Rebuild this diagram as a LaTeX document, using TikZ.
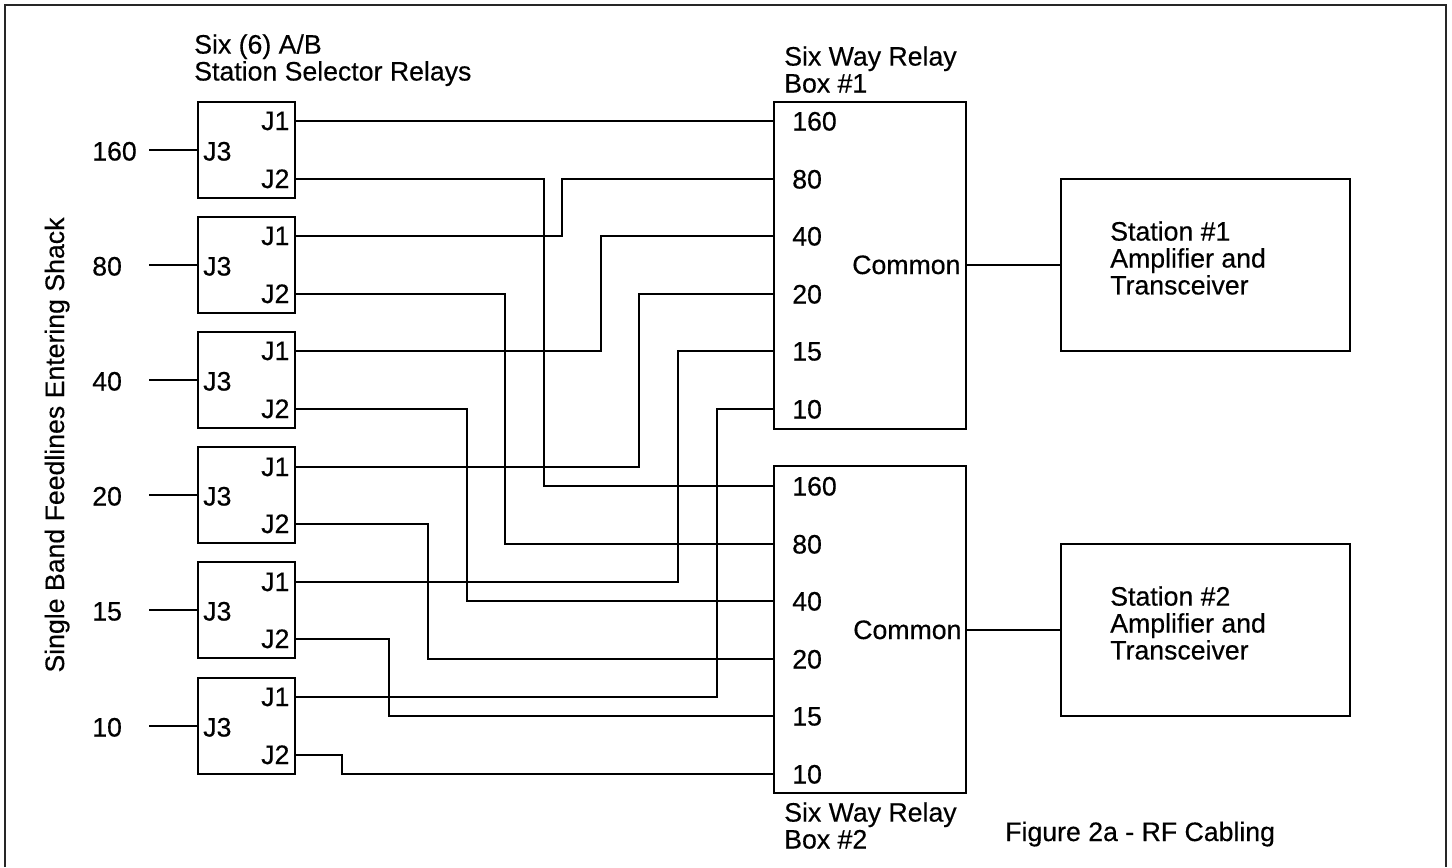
\documentclass[tikz,border=0pt]{standalone}
\usepackage{fontspec}
\setmainfont[RawFeature={embolden=0.4}]{Liberation Sans}
\usepackage{tikz}
\tikzset{
  wire/.style={draw=black,line width=1.7pt,line cap=rect,line join=miter},
  relay/.style={rectangle,draw=black,line width=1.7pt,inner sep=0pt,minimum width=72.75pt,minimum height=72pt},
  sixbox/.style={rectangle,draw=black,line width=1.7pt,inner sep=0pt,minimum width=144pt,minimum height=245.25pt},
  station/.style={rectangle,draw=black,line width=1.7pt,inner sep=0pt,minimum width=216.75pt,minimum height=129pt},
  lbl/.style={inner sep=0pt,font=\fontsize{20}{20.2}\selectfont,anchor=base west},
  mlbl/.style={inner sep=0pt,font=\fontsize{20}{20.2}\selectfont,anchor=north west,align=left}
}
\newcommand{\bendwire}[3]{%
  \draw[wire] (#1) -- (#1 -| #2,0) -- (#3 -| #2,0) -- (#3);
}

\begin{document}
\begin{tikzpicture}[x=.75pt,y=-.75pt]
  \useasboundingbox (0,0) rectangle (1452,867);
  \draw[line width=2pt,draw=black!85] (5,867) -- (5,5) -- (1446,5) -- (1446,867);
  % selector relays
  \foreach \band/\tj/\tm/\tk in {160/121/150/179,80/236/265/294,40/351/380/409,20/467/495/524,15/582/610/639,10/697/726/755} {
    \node[relay] (r\band) at (246.2,\tm) {};
    \coordinate (r\band j1) at (r\band.east |- 0,\tj);
    \coordinate (r\band j2) at (r\band.east |- 0,\tk);
    \coordinate (feed\band) at (150,\tm);
    \node[lbl] at (92,\tm+10.5) {\band};
    \node[lbl] at (203,\tm+10.5) {J3};
    \node[lbl] at (261,\tj+9) {J1};
    \node[lbl] at (261,\tk+9) {J2};
    \draw[wire] (feed\band) -- (r\band.west);
  }
  % relay boxes and stations
  \node[sixbox] (boxa) at (870,265.3) {};
  \node[sixbox] (boxb) at (870,629.8) {};
  \node[station] (sta) at (1205.5,265) {};
  \node[station] (stb) at (1205.5,630) {};
  \foreach \band/\ty in {160/121,80/179,40/236,20/294,15/351,10/409} {
    \coordinate (a\band) at (boxa.west |- 0,\ty);
    \coordinate (b\band) at (boxb.west |- 0,\ty+365);
    \node[lbl] at (792,\ty+9.5) {\band};
    \node[lbl] at (792,\ty+374.5) {\band};
  }
  \node[lbl] at (852,274) {Common};
  \node[lbl] at (853,639) {Common};
  \draw[wire] (boxa.east |- sta.west) -- (sta.west);
  \draw[wire] (boxb.east |- stb.west) -- (stb.west);
  % wiring
  \draw[wire] (r160j1) -- (a160);
  \bendwire{r160j2}{544}{b160}
  \bendwire{r80j1}{562}{a80}
  \bendwire{r80j2}{505}{b80}
  \bendwire{r40j1}{601}{a40}
  \bendwire{r40j2}{467}{b40}
  \bendwire{r20j1}{639}{a20}
  \bendwire{r20j2}{428}{b20}
  \bendwire{r15j1}{678}{a15}
  \bendwire{r15j2}{389}{b15}
  \bendwire{r10j1}{717}{a10}
  \bendwire{r10j2}{342}{b10}
  % text
  \node[mlbl] at (194,34) {Six (6) A/B\\Station Selector Relays};
  \node[mlbl] at (784,46) {Six Way Relay\\Box \#1};
  \node[mlbl] at (784,802) {Six Way Relay\\Box \#2};
  \node[mlbl] at (1110,221) {Station \#1\\Amplifier and\\Transceiver};
  \node[mlbl] at (1110,586) {Station \#2\\Amplifier and\\Transceiver};
  \node[lbl] at (1005,841) {Figure 2a - RF Cabling};
  \node[lbl,anchor=base,rotate=90] at (64,445) {Single Band Feedlines Entering Shack};
\end{tikzpicture}
\end{document}
